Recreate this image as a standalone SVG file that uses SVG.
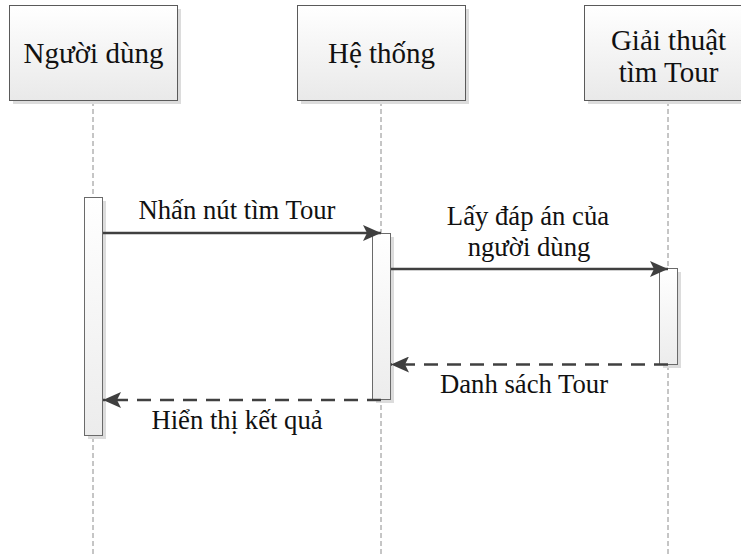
<svg xmlns="http://www.w3.org/2000/svg" width="741" height="556" viewBox="0 0 741 556">
  <defs>
    <linearGradient id="headFill" x1="0" y1="0" x2="0" y2="1">
      <stop offset="0" stop-color="#ffffff"/>
      <stop offset="1" stop-color="#e9e9e9"/>
    </linearGradient>
    <linearGradient id="actFill" x1="0" y1="0" x2="0" y2="1">
      <stop offset="0" stop-color="#ffffff"/>
      <stop offset="1" stop-color="#ececec"/>
    </linearGradient>
    <marker id="arrowHead" viewBox="0 0 18 16" refX="18" refY="8" markerWidth="18" markerHeight="16" markerUnits="userSpaceOnUse" orient="auto">
      <path d="M0,0 L18,8 L0,16 L4,8 Z" fill="#3f3f3f"/>
    </marker>
  </defs>
  <style>
    .shadow { fill: #dcdcdc; }
    .head { fill: url(#headFill); stroke: #5a5a5a; stroke-width: 1; }
    .act { fill: url(#actFill); stroke: #6a6a6a; stroke-width: 1; }
    .lifeline { stroke: #8c8c8c; stroke-width: 1; stroke-dasharray: 5 3; fill: none; }
    .call { stroke: #404040; stroke-width: 2.5; fill: none; marker-end: url(#arrowHead); }
    .reply { stroke: #404040; stroke-width: 2.5; fill: none; stroke-dasharray: 14 9; marker-end: url(#arrowHead); }
    .title { font-family: "Liberation Serif", "Times New Roman", serif; font-size: 29px; fill: #111; text-anchor: middle; }
    .label { font-family: "Liberation Serif", "Times New Roman", serif; font-size: 26.7px; fill: #111; text-anchor: middle; }
  </style>

  <rect width="741" height="556" fill="#ffffff"/>

  <!-- lifelines -->
  <g id="lifelines">
    <line class="lifeline" x1="93" y1="101" x2="93" y2="556"/>
    <line class="lifeline" x1="381" y1="101" x2="381" y2="556"/>
    <line class="lifeline" x1="668" y1="101" x2="668" y2="556"/>
  </g>

  <!-- participant: user -->
  <g id="nguoi-dung">
    <rect class="shadow" x="13" y="9" width="168" height="95"/>
    <rect class="head" x="9.5" y="5.5" width="168" height="95"/>
    <text class="title" x="93.5" y="63">Người dùng</text>
  </g>

  <!-- participant: system -->
  <g id="he-thong">
    <rect class="shadow" x="301" y="9" width="168" height="95"/>
    <rect class="head" x="297.5" y="5.5" width="168" height="95"/>
    <text class="title" x="381.5" y="63">Hệ thống</text>
  </g>

  <!-- participant: tour search algorithm -->
  <g id="giai-thuat">
    <rect class="shadow" x="588" y="9" width="168" height="95"/>
    <rect class="head" x="584.5" y="5.5" width="168" height="95"/>
    <text class="title" x="668.5" y="50">Giải thuật</text>
    <text class="title" x="668.5" y="82">tìm Tour</text>
  </g>

  <!-- activation bars -->
  <g id="activations">
    <rect class="shadow" x="88" y="201" width="18" height="238"/>
    <rect class="act" x="84.5" y="197.5" width="18" height="238"/>
    <rect class="shadow" x="376" y="237" width="18" height="166"/>
    <rect class="act" x="372.5" y="233.5" width="18" height="166"/>
    <rect class="shadow" x="663" y="272" width="18" height="96"/>
    <rect class="act" x="659.5" y="268.5" width="18" height="96"/>
  </g>

  <!-- messages -->
  <g id="connectors">
    <line class="call" x1="103" y1="233" x2="381" y2="233"/>
    <line class="call" x1="391" y1="269" x2="668" y2="269"/>
    <line class="reply" x1="668" y1="364.5" x2="391" y2="364.5"/>
    <line class="reply" x1="381" y1="400" x2="103" y2="400"/>
  </g>

  <!-- message labels -->
  <g id="labels">
    <text class="label" x="237" y="219">Nhấn nút tìm Tour</text>
    <text class="label" x="528" y="225">Lấy đáp án của</text>
    <text class="label" x="529" y="256">người dùng</text>
    <text class="label" x="524" y="393">Danh sách Tour</text>
    <text class="label" x="237" y="429">Hiển thị kết quả</text>
  </g>
</svg>
